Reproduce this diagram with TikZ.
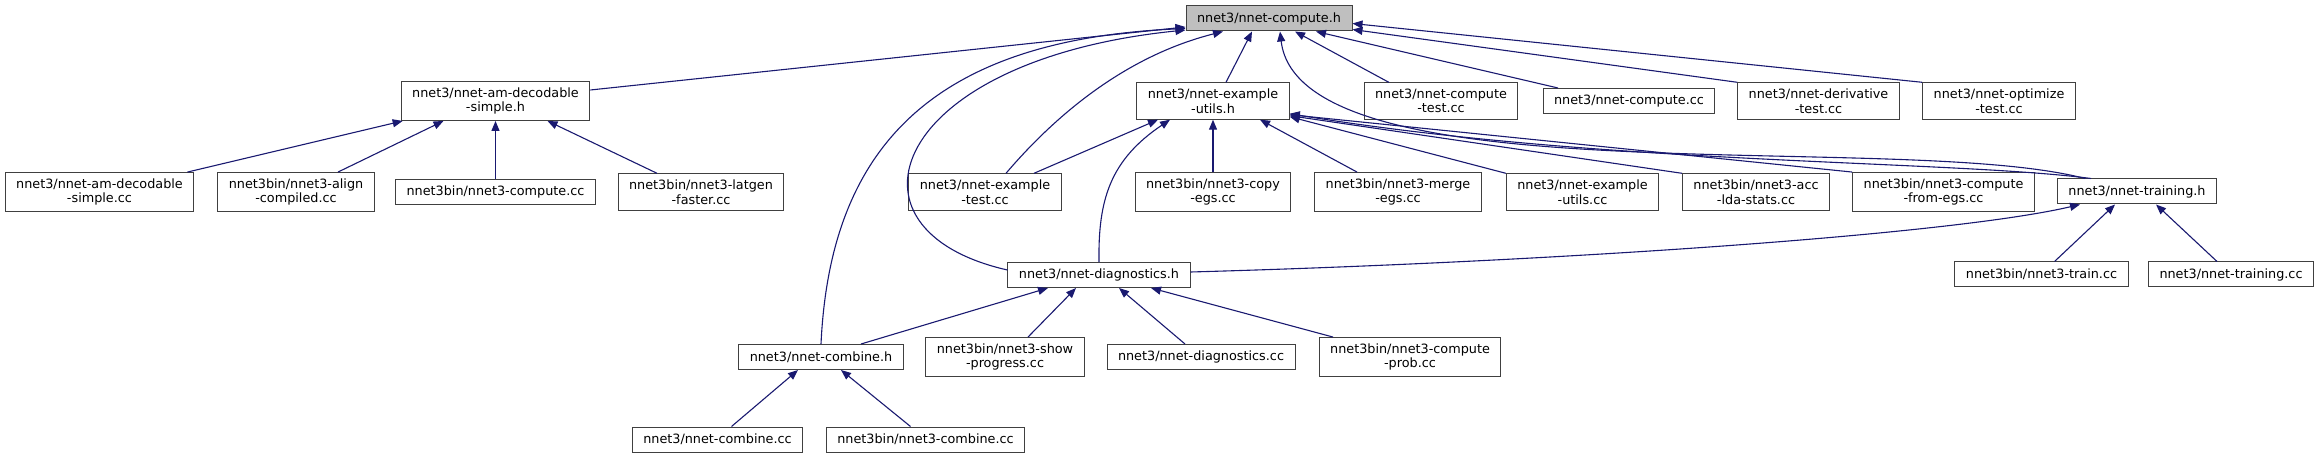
\documentclass[tikz,border=0pt]{standalone}
\usepackage{fontspec}
\setmainfont{DejaVu Sans}
\usetikzlibrary{arrows.meta}
\definecolor{inclblue}{HTML}{191970}
\begin{document}
\begin{tikzpicture}[
            x=1bp,
            y=-1bp,
            every node/.style={
              draw=black!75,
              line width=1bp,
              fill=white,
              align=center,
              inner xsep=11bp,
              inner ysep=6bp,
              minimum height=25bp,
              font=\fontsize{12.8bp}{14.5bp}\selectfont,
            },
            incl/.style={inclblue, line width=1.1bp},
            >={Triangle[length=10bp,width=8bp]},
          ]
          \useasboundingbox (0,0) rectangle (2319,459) ;
          \node[fill=black!25] at (1269,18.5) (computeh) {nnet3/nnet-compute.h} ;
          \node at (495.5,101) (amdech) {nnet3/nnet-am-decodable\\-simple.h} ;
          \node at (1213,101) (exutilsh) {nnet3/nnet-example\\-utils.h} ;
          \node at (1441,101) (computetest) {nnet3/nnet-compute\\-test.cc} ;
          \node at (1629,101) (computecc) {nnet3/nnet-compute.cc} ;
          \node at (1818.5,101) (derivtest) {nnet3/nnet-derivative\\-test.cc} ;
          \node at (1999,101) (optimizetest) {nnet3/nnet-optimize\\-test.cc} ;
          \node at (99.5,192) (amdeccc) {nnet3/nnet-am-decodable\\-simple.cc} ;
          \node at (296,192) (align) {nnet3bin/nnet3-align\\-compiled.cc} ;
          \node at (495.5,192) (computebin) {nnet3bin/nnet3-compute.cc} ;
          \node at (701,192) (latgen) {nnet3bin/nnet3-latgen\\-faster.cc} ;
          \node at (985,192) (extest) {nnet3/nnet-example\\-test.cc} ;
          \node at (1213,192) (copyegs) {nnet3bin/nnet3-copy\\-egs.cc} ;
          \node at (1398,192) (mergeegs) {nnet3bin/nnet3-merge\\-egs.cc} ;
          \node at (1582.5,192) (exutilscc) {nnet3/nnet-example\\-utils.cc} ;
          \node at (1756,192) (acclda) {nnet3bin/nnet3-acc\\-lda-stats.cc} ;
          \node at (1943.5,192) (computefromegs) {nnet3bin/nnet3-compute\\-from-egs.cc} ;
          \node at (2137,191.5) (trainingh) {nnet3/nnet-training.h} ;
          \node at (1099,275) (diagh) {nnet3/nnet-diagnostics.h} ;
          \node at (2041.5,274.5) (traincc) {nnet3bin/nnet3-train.cc} ;
          \node at (2231,274.5) (trainingcc) {nnet3/nnet-training.cc} ;
          \node at (821,357) (combineh) {nnet3/nnet-combine.h} ;
          \node at (1005,357) (showprogress) {nnet3bin/nnet3-show\\-progress.cc} ;
          \node at (1201,357) (diagcc) {nnet3/nnet-diagnostics.cc} ;
          \node at (1410,357) (computeprob) {nnet3bin/nnet3-compute\\-prob.cc} ;
          \node at (717.5,439.5) (combinecc) {nnet3/nnet-combine.cc} ;
          \node at (925.5,439.5) (combinebin) {nnet3bin/nnet3-combine.cc} ;
          \draw[incl,<-] ([yshift=-8.5bp]computeh.west)--([yshift=11bp]amdech.east) ;
          \draw[incl,<-] ([yshift=-10bp]computeh.west) .. controls (930,40) and (830,150) .. (combineh.north) ;
          \draw[incl,<-] ([yshift=-11.5bp]computeh.west) .. controls (890,60) and (830,230) .. ([yshift=5bp]diagh.west) ;
          \draw[incl,<-] ([xshift=-46bp]computeh.south) .. controls (1130,55) and (1060,110) .. ([xshift=21bp]extest.north) ;
          \draw[incl,<-] ([xshift=-17bp]computeh.south)--([xshift=13bp]exutilsh.north) ;
          \draw[incl,<-] ([xshift=11bp]computeh.south) .. controls (1300,200) and (1900,130) .. ([xshift=-52bp]trainingh.north) ;
          \draw[incl,<-] ([xshift=26bp]computeh.south)--([xshift=-52bp]computetest.north) ;
          \draw[incl,<-] ([xshift=47bp]computeh.south)--([xshift=-71bp]computecc.north) ;
          \draw[incl,<-] ([yshift=-11bp]computeh.east)--(derivtest.north west) ;
          \draw[incl,<-] ([yshift=-5bp]computeh.east)--(optimizetest.north west) ;
          \draw[incl,<-] ([xshift=2bp]amdech.south west)--([xshift=88bp]amdeccc.north) ;
          \draw[incl,<-] ([xshift=-52bp]amdech.south)--([xshift=42bp]align.north) ;
          \draw[incl,<-] (amdech)--(computebin) ;
          \draw[incl,<-] ([xshift=52bp]amdech.south)--([xshift=-44bp]latgen.north) ;
          \draw[incl,<-] ([xshift=-55bp]exutilsh.south)--([xshift=49bp]extest.north) ;
          \draw[incl,<-] ([xshift=-43bp]exutilsh.south) .. controls (1110,160) and (1098,200) .. (diagh.north) ;
          \draw[incl,<-] (exutilsh)--(copyegs) ;
          \draw[incl,<-] ([xshift=47bp]exutilsh.south)--([xshift=-41bp]mergeegs.north) ;
          \draw[incl,<-] ([yshift=3bp]exutilsh.south east)--(exutilscc.north west) ;
          \draw[incl,<-] ([yshift=4bp]exutilsh.south east)--(acclda.north west) ;
          \draw[incl,<-] ([yshift=5bp]exutilsh.south east)--(computefromegs.north west) ;
          \draw[incl,<-] ([yshift=6bp]exutilsh.south east) .. controls (1600,165) and (1950,160) .. ([xshift=-46bp]trainingh.north) ;
          \draw[incl,<-] ([xshift=-57bp]trainingh.south) .. controls (1950,235) and (1550,262) .. ([yshift=3bp]diagh.east) ;
          \draw[incl,<-] ([xshift=-22bp]trainingh.south)--([xshift=13bp]traincc.north) ;
          \draw[incl,<-] ([xshift=19bp]trainingh.south)--([xshift=-14bp]trainingcc.north) ;
          \draw[incl,<-] ([xshift=-51bp]diagh.south)--([xshift=40bp]combineh.north) ;
          \draw[incl,<-] ([xshift=-23bp]diagh.south)--([xshift=23bp]showprogress.north) ;
          \draw[incl,<-] ([xshift=20bp]diagh.south)--([xshift=-16bp]diagcc.north) ;
          \draw[incl,<-] ([xshift=52bp]diagh.south)--([xshift=-77bp]computeprob.north) ;
          \draw[incl,<-] ([xshift=-23bp]combineh.south)--([xshift=14bp]combinecc.north) ;
          \draw[incl,<-] ([xshift=20bp]combineh.south)--([xshift=-15bp]combinebin.north) ;
          \end{tikzpicture}
\end{document}
